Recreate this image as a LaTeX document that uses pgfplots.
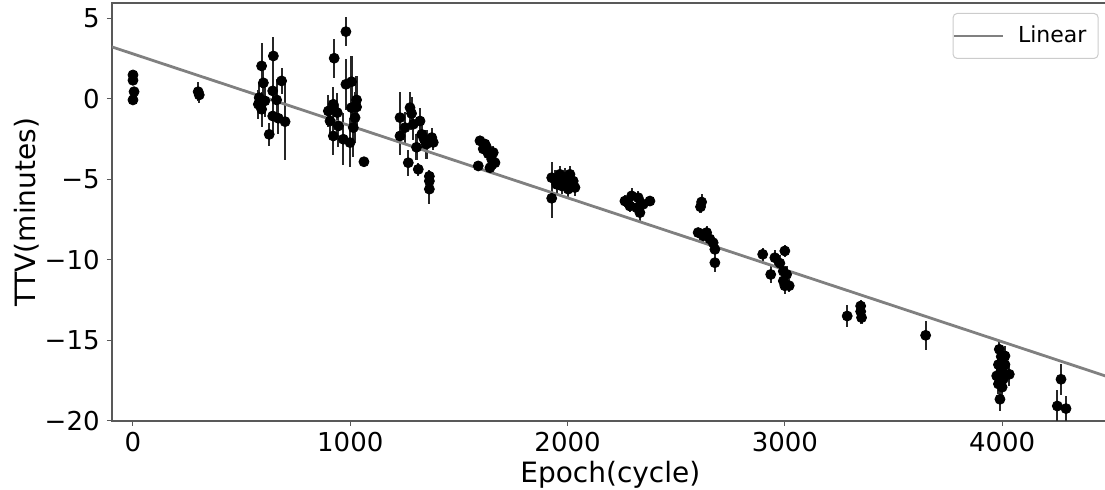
\documentclass[border=0pt]{standalone}
\usepackage{fontspec}
\setmainfont{DejaVu Sans}
\usepackage{pgfplots}
\pgfplotsset{compat=1.18}
\usepackage{pgfplotstable}

% epoch, TTV (min), 1-sigma error
\pgfplotstableread{
x y e
0 1.49 0.25
0 1.16 0.25
5 0.45 0.3
0 -0.06 0.25
300 0.45 0.6
305 0.25 0.5
592 2.05 1.4
600 1.0 1.2
581 0.08 1.0
577 -0.33 0.9
592 -0.64 1.1
607 -0.12 1.0
646 2.67 1.2
643 0.5 1.0
661 -0.06 1.3
643 -1.06 1.2
669 -1.2 1.0
627 -2.2 0.7
684 1.12 0.8
700 -1.41 2.4
980 4.18 0.9
926 2.53 1.2
980 0.91 1.6
1006 1.07 1.6
1029 -0.06 1.5
1029 -0.5 1.4
899 -0.75 1.0
922 -0.33 1.1
940 -0.85 1.2
907 -1.37 1.1
945 -1.68 1.3
922 -2.3 1.2
968 -2.5 1.6
999 -2.71 1.5
1014 -1.78 1.8
1022 -1.16 1.6
1006 -0.54 1.5
1063 -3.9 0.1
1229 -1.16 1.6
1229 -2.3 1.2
1267 -3.96 0.8
1275 -0.54 1.0
1313 -4.37 0.4
1290 -1.57 1.0
1321 -1.37 0.8
1329 -2.2 0.9
1351 -2.8 0.9
1375 -2.4 0.6
1364 -5.1 0.5
1364 -5.6 0.9
1364 -4.8 0.4
1305 -3.0 0.8
1382 -2.7 0.5
1252 -1.78 1.0
1282 -0.9 1.0
1340 -2.5 0.6
1597 -2.6 0.3
1620 -2.8 0.3
1589 -4.16 0.3
1635 -3.4 0.4
1658 -3.33 0.4
1666 -3.96 0.4
1643 -4.27 0.3
1651 -3.75 0.4
1612 -3.1 0.3
1627 -3.0 0.3
1927 -4.89 1.0
1927 -6.17 1.2
1942 -4.99 0.6
1965 -4.68 0.5
1988 -4.89 0.6
2011 -4.68 0.5
2026 -5.1 0.5
1973 -5.4 0.5
2003 -5.6 0.6
1950 -5.3 0.6
2034 -5.5 0.5
1957 -5.0 0.5
1995 -5.2 0.5
2264 -6.34 0.4
2295 -6.02 0.5
2287 -6.65 0.4
2325 -6.13 0.4
2333 -7.06 0.5
2348 -6.54 0.4
2379 -6.34 0.3
2318 -6.75 0.4
2617 -6.4 0.5
2612 -6.7 0.4
2601 -8.3 0.3
2624 -8.5 0.4
2640 -8.3 0.4
2670 -8.93 0.4
2678 -9.34 0.4
2678 -10.17 0.6
2655 -8.7 0.4
2898 -9.65 0.4
2935 -10.9 0.5
2954 -9.86 0.5
3000 -9.44 0.4
2977 -10.2 0.5
2993 -10.7 0.4
3008 -10.9 0.5
2993 -11.3 0.5
3020 -11.6 0.4
3000 -11.6 0.5
3287 -13.48 0.7
3349 -12.86 0.4
3349 -13.2 0.4
3353 -13.58 0.4
3648 -14.68 0.9
3987 -15.55 0.6
3996 -16.0 0.6
3983 -16.5 0.7
3975 -17.2 0.6
3983 -17.7 0.6
3990 -18.65 0.7
4013 -15.96 0.6
4013 -16.5 0.6
4033 -17.1 0.7
4000 -16.8 0.6
4005 -17.4 0.6
4000 -17.9 0.6
3995 -16.9 0.6
4271 -17.41 0.95
4254 -19.07 1.0
4294 -19.23 0.8
}\ttvdata

\begin{document}
\begin{tikzpicture}
\begin{axis}[
  name=ax,
  scale only axis, width=498.3pt, height=209pt,
  xmin=-96.6, xmax=4490, ymin=-20, ymax=5.96,
  xtick={0,1000,2000,3000,4000}, xticklabels={0,1000,2000,3000,4000},
  ytick={-20,-15,-10,-5,0,5}, yticklabels={−20,−15,−10,−5,0,5},
  scaled x ticks=false,
  xtick pos=left, ytick pos=left,
  tick align=outside, major tick length=2.5pt,
  tick style={black!65, line width=0.5pt},
  axis line style={black!65, line width=0.6pt},
  ticklabel style={font=\fontsize{13}{15}\selectfont},
  yticklabel style={inner sep=0pt, xshift=-3.5pt},
  xticklabel style={inner sep=0pt, yshift=-2.85pt},
  xlabel={Epoch(cycle)}, ylabel={TTV(minutes)},
  label style={font=\fontsize{14}{16}\selectfont},
  xlabel style={at={(axis description cs:0.5,-0.0957)}, anchor=north, inner sep=0pt},
  ylabel style={at={(axis description cs:-0.0853,0.5)}, anchor=center, inner sep=0pt},
  legend style={at={(1,1)}, anchor=north east, xshift=-5pt, yshift=-5pt,
    draw=black!20, rounded corners=2pt, line width=0.5pt,
    inner xsep=0pt, inner ysep=3.3pt,
    nodes={inner xsep=3.3pt, inner ysep=3pt},
    font=\fontsize{11}{13}\selectfont},
  legend image code/.code={\draw[gray, line width=1pt] (0pt,0pt) -- (24.5pt,0pt); \path (28pt,0pt);},
]
\addplot[forget plot, only marks, mark=*, mark size=2.5pt, mark options={fill=black, draw=black},
  error bars/.cd, y dir=both, y explicit, error mark=none,
  error bar style={line width=1.1pt, black!85}]
  table[x=x, y=y, y error=e] {\ttvdata};
\addplot[gray, line width=1.4pt] coordinates {(-150,3.47) (4600,-17.76)};
\addlegendentry{Linear\hspace*{2.5pt}}
\end{axis}
\pgfresetboundingbox
\path ([shift={(-56pt,-34.5pt)}]ax.south west) rectangle ([shift={(496.5pt,1.5pt)}]ax.north west);
\end{tikzpicture}
\end{document}
